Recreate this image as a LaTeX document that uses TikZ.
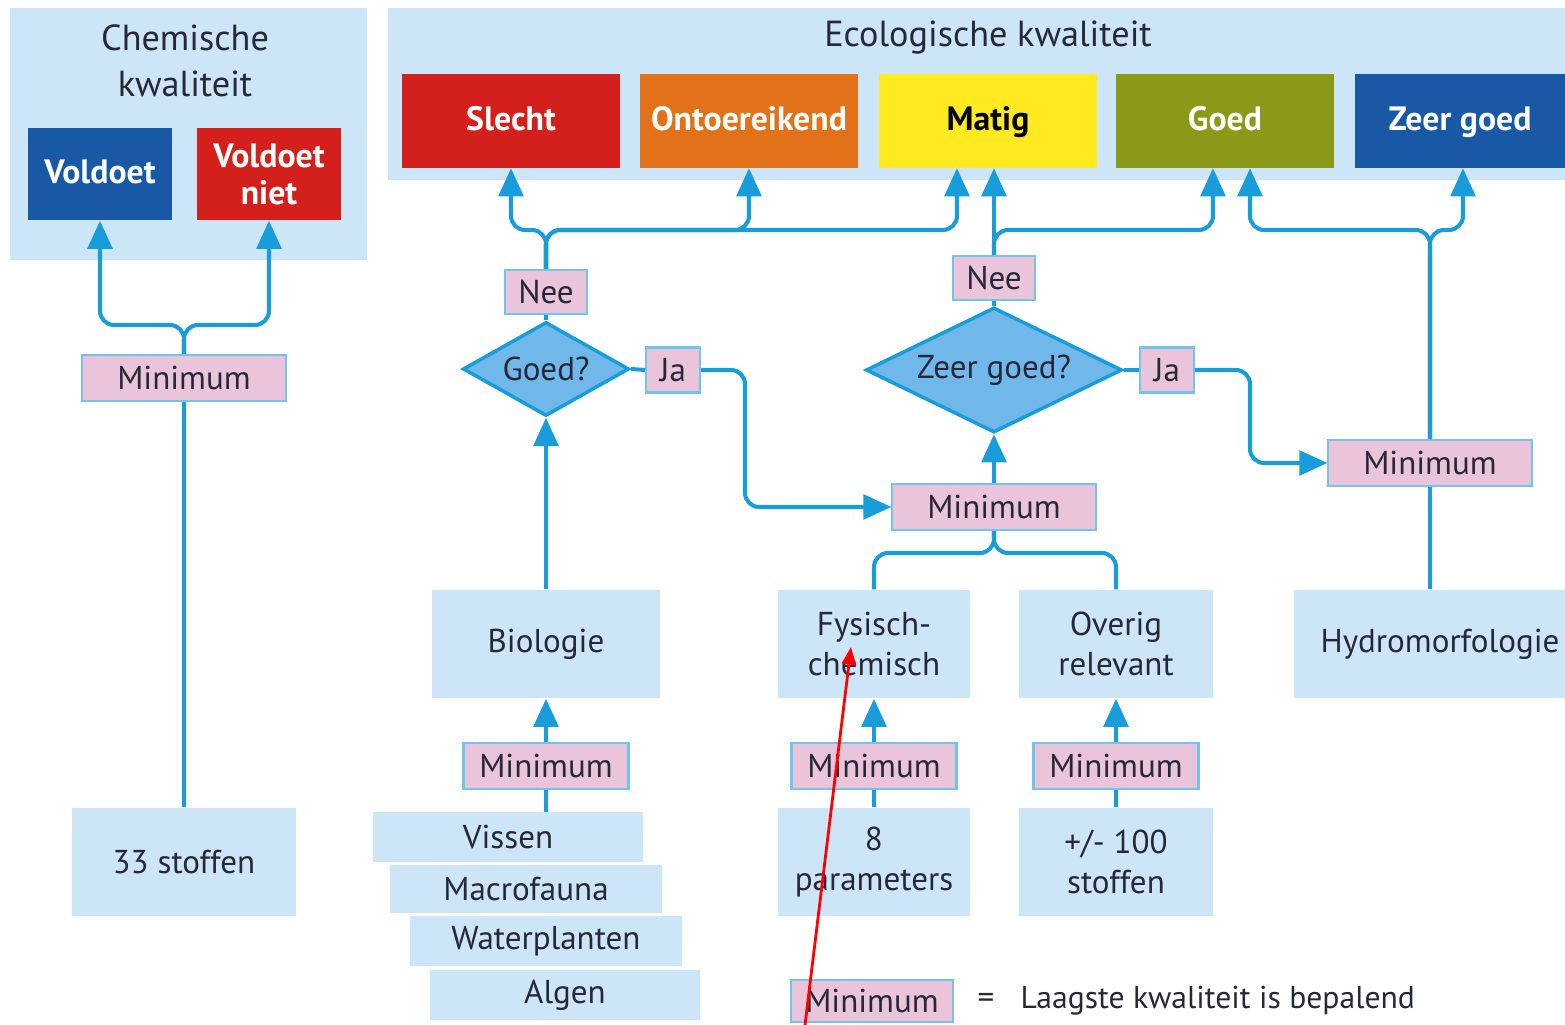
\documentclass[tikz,border=0pt]{standalone}
\usepackage{fontspec}
\setmainfont{PT Sans}
\usepackage{xcolor}
\usetikzlibrary{positioning}
\usetikzlibrary{arrows.meta}
\usetikzlibrary{shapes.geometric}
\definecolor{panel}{RGB}{204,229,247}
\definecolor{lijn}{RGB}{24,156,218}
\definecolor{roze}{RGB}{233,196,218}
\definecolor{rood}{RGB}{212,32,28}
\definecolor{oranje}{RGB}{226,114,26}
\definecolor{geel}{RGB}{255,233,32}
\definecolor{olijf}{RGB}{140,152,24}
\definecolor{donkerblauw}{RGB}{24,88,164}
\definecolor{ruit}{RGB}{112,184,234}
\definecolor{tekst}{RGB}{38,40,56}
\tikzset{
dik/.style={line width=1.15pt},
pijl/.style={lijn, dik, rounded corners=4pt, -{Triangle[width=7pt,length=8pt]}},
lijntje/.style={lijn, dik, rounded corners=4pt},
vak/.style 2 args={fill=panel, text=tekst, minimum width=#1, minimum height=#2,
	inner sep=0pt, align=center, font=\fontsize{9.4}{11.4}\selectfont},
klasse/.style 2 args={fill=#1, text=#2, minimum width=2.18cm, minimum height=0.93cm,
	inner sep=0pt, align=center, text height=1.5ex, text depth=0.4ex,
	font=\fontsize{9.6}{10.5}\selectfont\bfseries},
minbox/.style={fill=roze, draw=lijn!60, line width=0.6pt, text=tekst, minimum width=#1,
	minimum height=0.46cm, inner sep=0pt, font=\fontsize{9.4}{11}\selectfont},
ruitje/.style n args={3}{diamond, aspect=#3, fill=ruit, draw=lijn, line width=1pt, text=tekst, minimum width=#1,
	minimum height=#2, inner sep=0pt, font=\fontsize{9.4}{11}\selectfont},
}

\begin{document}
\begin{tikzpicture}[x=0.01cm, y=-0.01cm]
\useasboundingbox (0,0) rectangle (1565,1025);
\tikzstyle{titel}=[text=tekst, align=center, font=\fontsize{10.3}{13}\selectfont]
%Panels
\fill[panel] (10,8) rectangle (367,260);
\fill[panel] (388,8) rectangle (1565,180);
\node[titel] (tchem) at (185,61) {Chemische\\kwaliteit};
\node[titel] (teco) at (988,38) {Ecologische kwaliteit};

%Place the nodes
\node[klasse={donkerblauw}{white}, minimum width=1.44cm, minimum height=0.92cm] (voldoet) at (100,174) {Voldoet};
\node[klasse={rood}{white}, minimum width=1.44cm, minimum height=0.92cm, text height=, text depth=] (niet) at (269,174) {Voldoet\\niet};
\node[klasse={rood}{white}] (slecht) at (511,121) {Slecht};
\node[klasse={oranje}{white}] (ontoer) at (749,121) {Ontoereikend};
\node[klasse={geel}{black}] (matig) at (988,121) {Matig};
\node[klasse={olijf}{white}] (goed) at (1225,121) {Goed};
\node[klasse={donkerblauw}{white}, minimum width=2.10cm] (zeergoed) at (1460,121) {Zeer goed};

\node[minbox=2.03cm] (mc) at (184,378) {Minimum};
\node[vak={2.24cm}{1.08cm}] (stof33) at (184,862) {33 stoffen};

\node[minbox=0.82cm, minimum height=0.44cm] (nee1) at (546,292) {Nee};
\node[ruitje={1.66cm}{0.94cm}{1.77}] (goedq) at (546,369) {Goed?};
\node[minbox=0.54cm, minimum height=0.45cm] (ja1) at (673,370) {Ja};
\node[minbox=0.82cm, minimum height=0.44cm] (nee2) at (994,278) {Nee};
\node[ruitje={2.56cm}{1.25cm}{2.05}] (zgq) at (994,370) {Zeer goed?};
\node[minbox=0.54cm, minimum height=0.45cm] (ja2) at (1167,370) {Ja};
\node[minbox=2.03cm] (mm) at (994,507) {Minimum};
\node[minbox=2.03cm] (mh) at (1430,463) {Minimum};

\node[vak={2.27cm}{1.08cm}] (bio) at (546,644) {Biologie};
\node[vak={1.91cm}{1.08cm}] (fys) at (874,644) {Fysisch-\\chemisch};
\node[vak={1.93cm}{1.08cm}] (overig) at (1116,644) {Overig\\relevant};
\node[vak={2.72cm}{1.08cm}] (hydro) at (1430,644) {\hspace*{0.2cm}Hydromorfologie};

\node[minbox=1.65cm] (mb) at (546,766) {Minimum};
\node[minbox=1.65cm] (mf) at (874,766) {Minimum};
\node[minbox=1.65cm] (mo) at (1116,766) {Minimum};

\node[vak={2.70cm}{0.49cm}] (vissen) at (508,837) {Vissen};
\node[vak={2.72cm}{0.47cm}] (macro) at (526,889) {Macrofauna};
\node[vak={2.72cm}{0.49cm}] (water) at (546,941) {Waterplanten};
\node[vak={2.70cm}{0.50cm}] (algen) at (565,995) {Algen};
\node[vak={1.91cm}{1.08cm}] (par) at (874,862) {8\\parameters};
\node[vak={1.93cm}{1.08cm}] (stof100) at (1116,862) {+/- 100\\stoffen};

%Legend
\node[minbox=1.62cm, minimum height=0.42cm] (ml) at (872,1001) {Minimum};
\node[text=tekst, font=\fontsize{9.4}{11}\selectfont] (is) at (986,1001) {=};
\node[text=tekst, anchor=west, inner sep=0pt, font=\fontsize{9}{11}\selectfont] (uitleg) at (1020,1001) {Laagste kwaliteit is bepalend};

%Junctions
\coordinate (jc) at (184,325);
\coordinate (j1) at (546,230);
\coordinate (j2) at (994,230);
\coordinate (j3) at (1430,230);
\coordinate (j4) at (994,553);
\coordinate (k1) at (745,370);
\coordinate (k2) at (1250,370);

%Chemische kwaliteit
\draw[pijl] (mc.north) -- (jc) -| (voldoet.south);
\draw[pijl] (mc.north) -- (jc) -| (niet.south);
\draw[lijntje] (stof33) -- (mc);

%Goed?
\draw[pijl] (nee1.north) -- (j1) -| (slecht.south);
\draw[pijl] (nee1.north) -- (j1) -| (ontoer.south);
\draw[pijl] (nee1.north) -- (j1) -| ([xshift=-0.31cm]matig.south);
\draw[lijntje] (goedq) -- (nee1);
\draw[lijntje] (goedq.east) -- (ja1.west);
\draw[pijl] (ja1.east) -- (k1) |- (mm.west);
\draw[pijl] (bio) -- (goedq.south);

%Zeer goed?
\draw[pijl] (nee2.north) -- (nee2.north |- matig.south);
\draw[pijl] (nee2.north) -- (j2) -| ([xshift=-0.12cm]goed.south);
\draw[lijntje] (zgq) -- (nee2);
\draw[lijntje] (zgq.east) -- (ja2.west);
\draw[pijl] (ja2.east) -- (k2) |- (mh.west);
\draw[pijl] (mm) -- (zgq.south);
\draw[lijntje] (mm.south) -- (j4) -| (fys.north);
\draw[lijntje] (mm.south) -- (j4) -| (overig.north);

%Hydromorfologie
\draw[pijl] (mh.north) -- (j3) -| ([xshift=0.25cm]goed.south);
\draw[pijl] (mh.north) -- (j3) -| ([xshift=0.03cm]zeergoed.south);
\draw[lijntje] (hydro) -- (mh);

%Onderste minima
\draw[pijl] (mb) -- (bio.south);
\draw[pijl] (mf) -- (fys.south);
\draw[pijl] (mo) -- (overig.south);
\draw[lijntje] (mb.south) -- (mb.south |- vissen.north);
\draw[lijntje] (mf) -- (par);
\draw[lijntje] (mo) -- (stof100);

%Red mark
\coordinate (rs) at (805,1025);
\coordinate (rt) at (851,647);
\draw[red, line width=0.8pt, -{Triangle[width=4pt,length=5pt]}] (rs) -- (rt);
\end{tikzpicture}
\end{document}
